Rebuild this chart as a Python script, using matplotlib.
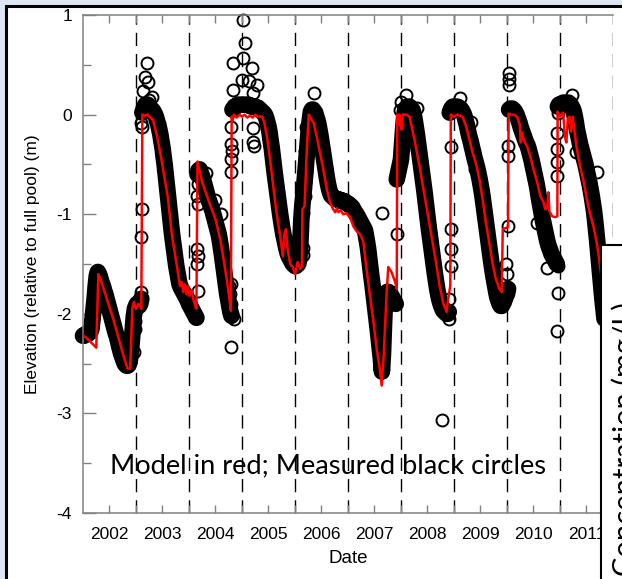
import numpy as np
import matplotlib.pyplot as plt
from matplotlib.patches import Rectangle

# measured pool elevation, one value every 0.02 yr from the start of each year
meas_2002 = [-2.22, -2.22, -2.21, -2.2, -2.2, -2.2, -2.18, -2.18, -2.15, -2.05,
             -1.95, -1.85, -1.72, -1.62, -1.58, -1.6, -1.63, -1.67, -1.7, -1.73,
             -1.77, -1.8, -1.84, -1.88, -1.92, -1.96, -2.0, -2.04, -2.08, -2.12,
             -2.16, -2.2, -2.23, -2.27, -2.32, -2.36, -2.4, -2.43, -2.46, -2.49,
             -2.51, -2.52, -2.52, -2.51, -2.48, -2.4, -2.28, -2.15, -2.02, -1.95]
meas_2003 = [-1.92, -1.9, -1.9, -1.92, -1.9, -1.85, 0.02, 0.05, 0.08, 0.1,
             0.1, 0.1, 0.08, 0.07, 0.06, 0.05, 0.04, 0.02, 0.0, -0.03,
             -0.07, -0.1, -0.15, -0.2, -0.27, -0.33, -0.42, -0.5, -0.6, -0.7,
             -0.8, -0.9, -1.0, -1.1, -1.2, -1.28, -1.36, -1.44, -1.52, -1.58,
             -1.64, -1.7, -1.73, -1.75, -1.77, -1.79, -1.81, -1.83, -1.85, -1.87]
meas_2004 = [-1.9, -1.92, -1.94, -1.96, -1.98, -2.0, -2.02, -2.04, -0.6, -0.56,
             -0.55, -0.58, -0.61, -0.64, -0.68, -0.72, -0.76, -0.8, -0.84, -0.87,
             -0.9, -0.93, -0.96, -1.0, -1.04, -1.08, -1.12, -1.16, -1.2, -1.26,
             -1.33, -1.4, -1.48, -1.56, -1.64, -1.72, -1.8, -1.86, -1.92, -1.98,
             -2.02, 0.05, 0.06, 0.08, 0.08, 0.09, 0.1, 0.1, 0.1, 0.1]
meas_2005 = [0.1, 0.1, 0.1, 0.1, 0.1, 0.1, 0.1, 0.09, 0.09, 0.08,
             0.08, 0.08, 0.08, 0.07, 0.07, 0.07, 0.06, 0.05, 0.04, 0.03,
             0.02, 0.01, -0.01, -0.04, -0.08, -0.12, -0.18, -0.26, -0.33, -0.42,
             -0.51, -0.6, -0.68, -0.76, -0.84, -0.92, -1.0, -1.07, -1.14, -1.2,
             -1.25, -1.3, -1.35, -1.39, -1.42, -1.44, -1.46, -1.48, -1.5, -1.51]
meas_2006 = [-1.52, -1.52, -1.5, -1.5, -1.45, -1.3, -1.05, -0.9, -0.8, -0.68,
             -0.55, -0.42, -0.3, -0.15, -0.05, 0.03, 0.05, 0.05, 0.03, 0.02,
             -0.02, -0.05, -0.09, -0.15, -0.21, -0.28, -0.35, -0.42, -0.49, -0.56,
             -0.63, -0.69, -0.74, -0.78, -0.81, -0.82, -0.83, -0.84, -0.84, -0.85,
             -0.85, -0.85, -0.86, -0.86, -0.86, -0.87, -0.87, -0.87, -0.88, -0.89]
meas_2007 = [-0.9, -0.9, -0.91, -0.92, -0.93, -0.95, -0.97, -0.99, -1.0, -1.02,
             -1.04, -1.06, -1.08, -1.1, -1.12, -1.14, -1.16, -1.22, -1.28, -1.35,
             -1.44, -1.53, -1.62, -1.7, -1.79, -1.88, -1.97, -2.06, -2.15, -2.25,
             -2.35, -2.45, -2.58, -2.4, -2.1, -1.85, -1.8, -1.78, -1.78, -1.8,
             -1.8, -1.82, -1.84, -1.86, -1.88, -1.9, -0.65, -0.6, -0.55, -0.5]
meas_2008 = [-0.45, -0.3, -0.15, -0.02, 0.05, 0.07, 0.08, 0.08, 0.08, 0.07,
             0.06, 0.04, 0.0, -0.06, -0.13, -0.2, -0.28, -0.36, -0.44, -0.52,
             -0.6, -0.68, -0.76, -0.85, -0.94, -1.03, -1.12, -1.2, -1.28, -1.36,
             -1.44, -1.52, -1.6, -1.67, -1.74, -1.8, -1.85, -1.89, -1.92, -1.95,
             -1.97, -1.98, -1.99, -2.0, -2.0, -1.98, 0.02, 0.05, 0.07, 0.08]
meas_2009 = [0.08, 0.08, 0.08, 0.08, 0.07, 0.07, 0.06, 0.05, 0.03, 0.01,
             -0.02, -0.06, -0.1, -0.15, -0.2, -0.24, -0.28, -0.33, -0.37, -0.42,
             -0.46, -0.5, -0.54, -0.59, -0.64, -0.7, -0.76, -0.83, -0.91, -0.99,
             -1.07, -1.15, -1.23, -1.31, -1.39, -1.47, -1.54, -1.61, -1.67, -1.73,
             -1.79, -1.84, -1.87, -1.9, -1.92, -1.92, -1.9, -1.88, -1.85, -1.82]
meas_2010 = [-1.8, -1.75, 0.05, 0.06, 0.06, 0.06, 0.05, 0.04, 0.02, 0.0,
             -0.03, -0.06, -0.09, -0.13, -0.16, -0.19, -0.22, -0.25, -0.28, -0.3,
             -0.33, -0.37, -0.41, -0.45, -0.5, -0.55, -0.6, -0.65, -0.7, -0.76,
             -0.83, -0.89, -0.95, -1.01, -1.07, -1.12, -1.17, -1.22, -1.27, -1.31,
             -1.34, -1.37, -1.4, -1.42, -1.44, -1.46, -1.48, -1.5, 0.08, 0.1]
meas_2011 = [0.1, 0.1, 0.11, 0.12, 0.12, 0.12, 0.12, 0.12, 0.12, 0.11,
             0.1, 0.08, 0.06, 0.03, -0.02, -0.08, -0.15, -0.2, -0.25, -0.3,
             -0.34, -0.38, -0.42, -0.46, -0.5, -0.55, -0.6, -0.65, -0.7, -0.76,
             -0.82, -0.89, -0.96, -1.05, -1.15, -1.26, -1.38, -1.5, -1.62, -1.74,
             -1.85, -1.95, -2.05]
meas_years = [2002, 2003, 2004, 2005, 2006, 2007, 2008, 2009, 2010, 2011]
meas_series = [meas_2002, meas_2003, meas_2004, meas_2005, meas_2006,
               meas_2007, meas_2008, meas_2009, meas_2010, meas_2011]

# scattered readings during refill and high water
extra_t = [2002.97, 2002.98, 2002.98,
           2003.10, 2003.10, 2003.11, 2003.10, 2003.12, 2003.20, 2003.17, 2003.22,
           2003.14, 2003.30, 2003.25,
           2004.17, 2004.16, 2004.17, 2004.16, 2004.17, 2004.16, 2004.17,
           2004.33, 2004.50, 2004.60,
           2004.80, 2004.76, 2004.78, 2004.80, 2004.82, 2004.84, 2004.80,
           2004.80, 2004.80, 2004.81, 2004.80, 2004.80,
           2005.02, 2005.06, 2005.02, 2004.83, 2005.18, 2005.00, 2005.14, 2005.28,
           2004.83, 2005.20, 2005.21, 2005.21, 2005.22,
           2006.35, 2006.15, 2006.19, 2006.20, 2006.20, 2006.19, 2006.20,
           2006.15, 2006.15,
           2007.65, 2007.92,
           2007.98, 2008.00, 2008.10, 2008.30, 2008.01, 2008.03,
           2008.77, 2008.91, 2008.95, 2008.95, 2008.95, 2008.95, 2008.91,
           2009.11, 2009.33, 2009.40,
           2010.03, 2010.03, 2010.04, 2010.02, 2010.02, 2010.02, 2009.98, 2010.0,
           2010.56, 2010.75, 2010.97, 2010.97, 2010.94,
           2010.94, 2010.94, 2010.95, 2010.94, 2010.96, 2011.22, 2011.31, 2011.69]
extra_v = [-2.38, -2.15, -2.07,
           -1.78, -1.23, -0.95, -0.08, -0.12, 0.52, 0.38, 0.33,
           0.24, 0.18, 0.15,
           -1.77, -1.5, -1.42, -1.35, -0.9, -0.82, -0.7,
           -0.59, -0.86, -1.0,
           -2.33, -1.72, -1.8, -1.9, -2.0, -2.05, -1.7,
           -0.58, -0.45, -0.37, -0.3, -0.12,
           0.95, 0.72, 0.57, 0.52, 0.47, 0.35, 0.34, 0.3,
           0.25, 0.22, -0.13, -0.28, -0.32,
           0.22, -0.99, -0.82, -0.58, -0.42, -0.37, -0.12,
           -1.34, -1.41,
           -0.99, -1.2,
           0.05, 0.13, 0.2, 0.07, -0.18, -0.35,
           -3.07, -2.05, -0.33, -1.15, -1.35, -1.52, -1.85,
           0.17, -0.07, -0.55,
           0.42, 0.36, 0.3, -0.32, -0.42, -1.12, -1.5, -1.6,
           -1.09, -1.54, -1.52, -1.79, -2.17,
           -0.18, -0.35, -0.48, -0.62, 0.02, 0.2, -0.38, -0.58]

# model elevation
model_t = [2002.00, 2002.12, 2002.25, 2002.29, 2002.33, 2002.45, 2002.57, 2002.70,
           2002.78, 2002.84, 2002.89, 2002.93, 2002.96, 2003.00, 2003.05, 2003.10,
           2003.12, 2003.17, 2003.22, 2003.27, 2003.32, 2003.40, 2003.48, 2003.60,
           2003.68, 2003.76, 2003.83, 2003.86, 2003.89, 2003.92, 2003.95, 2003.98,
           2004.01, 2004.05, 2004.08, 2004.12, 2004.14, 2004.16, 2004.25, 2004.38,
           2004.50, 2004.60, 2004.66, 2004.72, 2004.77, 2004.79, 2004.805, 2004.82,
           2004.85, 2004.90, 2004.95, 2005.00, 2005.05, 2005.10, 2005.15, 2005.20,
           2005.25, 2005.30, 2005.38, 2005.42, 2005.47, 2005.53, 2005.59, 2005.65,
           2005.72, 2005.77, 2005.80, 2005.83, 2005.86, 2005.91, 2005.96, 2006.00,
           2006.05, 2006.10, 2006.13, 2006.14, 2006.18, 2006.22, 2006.26, 2006.30,
           2006.35, 2006.41, 2006.47, 2006.535, 2006.60, 2006.66, 2006.72, 2006.76,
           2006.79, 2006.82, 2006.86, 2006.91, 2006.97, 2007.04, 2007.10, 2007.16,
           2007.23, 2007.29, 2007.35, 2007.415, 2007.48, 2007.54, 2007.60, 2007.635,
           2007.67, 2007.70, 2007.73, 2007.76, 2007.82, 2007.89, 2007.92, 2007.93,
           2007.95, 2007.97, 2007.99, 2008.01, 2008.03, 2008.10, 2008.16, 2008.25,
           2008.35, 2008.45, 2008.55, 2008.65, 2008.73, 2008.80, 2008.86, 2008.89,
           2008.93, 2008.94, 2009.00, 2009.06, 2009.16, 2009.23, 2009.29, 2009.35,
           2009.42, 2009.48, 2009.54, 2009.60, 2009.67, 2009.73, 2009.79, 2009.855,
           2009.90, 2009.92, 2010.02, 2010.03, 2010.08, 2010.13, 2010.19, 2010.24,
           2010.26, 2010.28, 2010.32, 2010.38, 2010.44, 2010.50, 2010.57, 2010.63,
           2010.69, 2010.72, 2010.76, 2010.78, 2010.80, 2010.85, 2010.91, 2010.95,
           2010.955, 2011.00, 2011.06, 2011.09, 2011.12, 2011.145, 2011.18, 2011.21,
           2011.24, 2011.27, 2011.31, 2011.38, 2011.45, 2011.51, 2011.57, 2011.63,
           2011.68, 2011.72, 2011.80, 2011.86]
model_v = [-2.21, -2.27, -2.34, -1.6, -1.65, -1.85, -2.05, -2.3,
           -2.45, -2.55, -2.55, -1.95, -1.88, -1.95, -1.9, -1.95,
           0.0, -0.01, 0.0, -0.03, -0.05, -0.22, -0.45, -0.83,
           -1.22, -1.48, -1.72, -1.68, -1.78, -1.7, -1.8, -1.72,
           -1.82, -1.76, -1.85, -1.93, -1.95, -0.47, -0.68, -0.88,
           -1.05, -1.28, -1.48, -1.68, -1.88, -1.97, -0.02, -0.06,
           0.0, -0.03, 0.0, -0.02, 0.0, -0.03, -0.01, -0.03,
           0.0, -0.02, -0.02, -0.08, -0.22, -0.45, -0.72, -0.98,
           -1.22, -1.42, -1.2, -1.15, -1.35, -1.5, -1.53, -1.6,
           -1.48, -1.55, -1.52, -0.95, -0.92, -0.38, 0.0, -0.04,
           -0.08, -0.22, -0.38, -0.55, -0.75, -0.88, -0.95, -0.98,
           -0.94, -0.98, -0.96, -1.0, -0.99, -1.03, -1.12, -1.17,
           -1.2, -1.28, -1.55, -1.82, -2.08, -2.35, -2.55, -2.72,
           -2.45, -2.12, -1.78, -1.53, -1.58, -1.68, -1.75, 0.0,
           -0.1, 0.0, -0.12, -0.15, 0.0, 0.0, -0.02, -0.24,
           -0.52, -0.83, -1.14, -1.45, -1.72, -1.9, -1.98, -1.85,
           -1.72, 0.0, -0.02, 0.0, -0.02, -0.12, -0.25, -0.38,
           -0.5, -0.65, -0.85, -1.08, -1.3, -1.5, -1.65, -1.75,
           -1.78, -1.15, -1.13, 0.01, 0.0, 0.0, -0.02, -0.1,
           -0.28, -0.18, -0.26, -0.32, -0.42, -0.55, -0.68, -0.82,
           -0.88, -0.95, -0.93, -0.78, -0.97, -1.02, -1.03, -1.02,
           0.03, -0.02, 0.02, -0.22, -0.28, -0.05, -0.02, -0.17,
           -0.02, -0.15, -0.32, -0.52, -0.68, -0.86, -1.0, -1.12,
           -1.25, -1.38, -1.7, -1.95]

year_labels = ['2002', '2003', '2004', '2005', '2006', '2007', '2008', '2009', '2010', '2011']
elev_labels = ['-4', '-3', '-2', '-1', '0', '1']

plt.rcParams['font.family'] = ['Liberation Sans', 'DejaVu Sans']

W, H = 622, 579
fig = plt.figure(figsize=(W / 100, H / 100), dpi=100)
fig.patch.set_facecolor('#dce6f2')

# slide panel behind the chart
fig.add_artist(Rectangle((5.5 / W, -0.1), 1.2, 1 - 5.5 / H + 0.1, transform=fig.transFigure,
                         facecolor='white', edgecolor='black', lw=2.2, zorder=-1))

ax = fig.add_axes([83 / W, 1 - 513 / H, 530 / W, 498 / H])
ax.set_facecolor('white')

t_meas = np.concatenate([y + 0.02 * np.arange(len(s)) for y, s in zip(meas_years, meas_series)])
v_meas = np.concatenate(meas_series)

# daily readings merge into a solid band; break it where the pool refills
jumps = np.where(np.abs(np.diff(v_meas)) > 0.5)[0] + 1
t_band = np.insert(t_meas, jumps, np.nan)
v_band = np.insert(v_meas, jumps, np.nan)

for yr in range(2003, 2013):
    ax.axvline(yr, color='black', lw=1.0, dashes=(9.5, 5.8), zorder=1)

ax.plot(t_band, v_band, color='black', lw=12, solid_capstyle='round',
        solid_joinstyle='round', clip_on=False, zorder=2)
circ = dict(ls='none', marker='o', ms=8.6, mfc='none', mec='black', mew=1.4, clip_on=False, zorder=2)
ax.plot(t_meas, v_meas, **circ)
ax.plot(extra_t, extra_v, **circ)
ax.plot(model_t, model_v, color='#ff0000', lw=1.8, zorder=3)

ax.set_xlim(2002, 2012)
ax.set_ylim(-4, 1)

ax.set_xticks([int(s) + 0.5 for s in year_labels], labels=year_labels)
ax.set_xticks(range(2003, 2012), minor=True)
ax.set_yticks([-4, -3, -2, -1, 0, 1], labels=elev_labels)
ax.set_yticks([-3.5, -2.5, -1.5, -0.5, 0.5], minor=True)

ax.tick_params(axis='x', which='both', direction='in', top=True, bottom=True,
               length=5.5, width=1, color='#808080', pad=10, labelsize=12.5)
ax.tick_params(axis='y', which='major', direction='in', length=9.5, width=1,
               color='#808080', pad=8, right=False, labelsize=12.5)
ax.tick_params(axis='y', which='minor', direction='in', length=5.5, width=1,
               color='#808080', right=False)

for side in ['left', 'bottom', 'top']:
    ax.spines[side].set_color('#808080')
    ax.spines[side].set_linewidth(1.1)
ax.spines['right'].set_visible(False)

ax.set_xlabel('Date', fontsize=13.5, labelpad=6)
ax.set_ylabel('Elevation (relative to full pool) (m)', fontsize=12.5, labelpad=12)

ax.text(0.05, 0.095, 'Model in red; Measured black circles', transform=ax.transAxes,
        family=['Lato', 'DejaVu Sans'], fontsize=19.6, ha='left', va='center')

# neighbouring panel that overlaps the chart
fig.add_artist(Rectangle((600.5 / W, -0.1), 0.5, 1 - 245 / H + 0.1, transform=fig.transFigure,
                         facecolor='white', edgecolor='black', lw=1.5, zorder=5))
fig.text(611 / W, 1 - 302 / H, 'Concentration (mg/L)', rotation=90, ha='left', va='top',
         family=['Lato', 'DejaVu Sans'], fontsize=21, zorder=6)

fig.savefig('out.png', dpi=100, facecolor=fig.get_facecolor())
